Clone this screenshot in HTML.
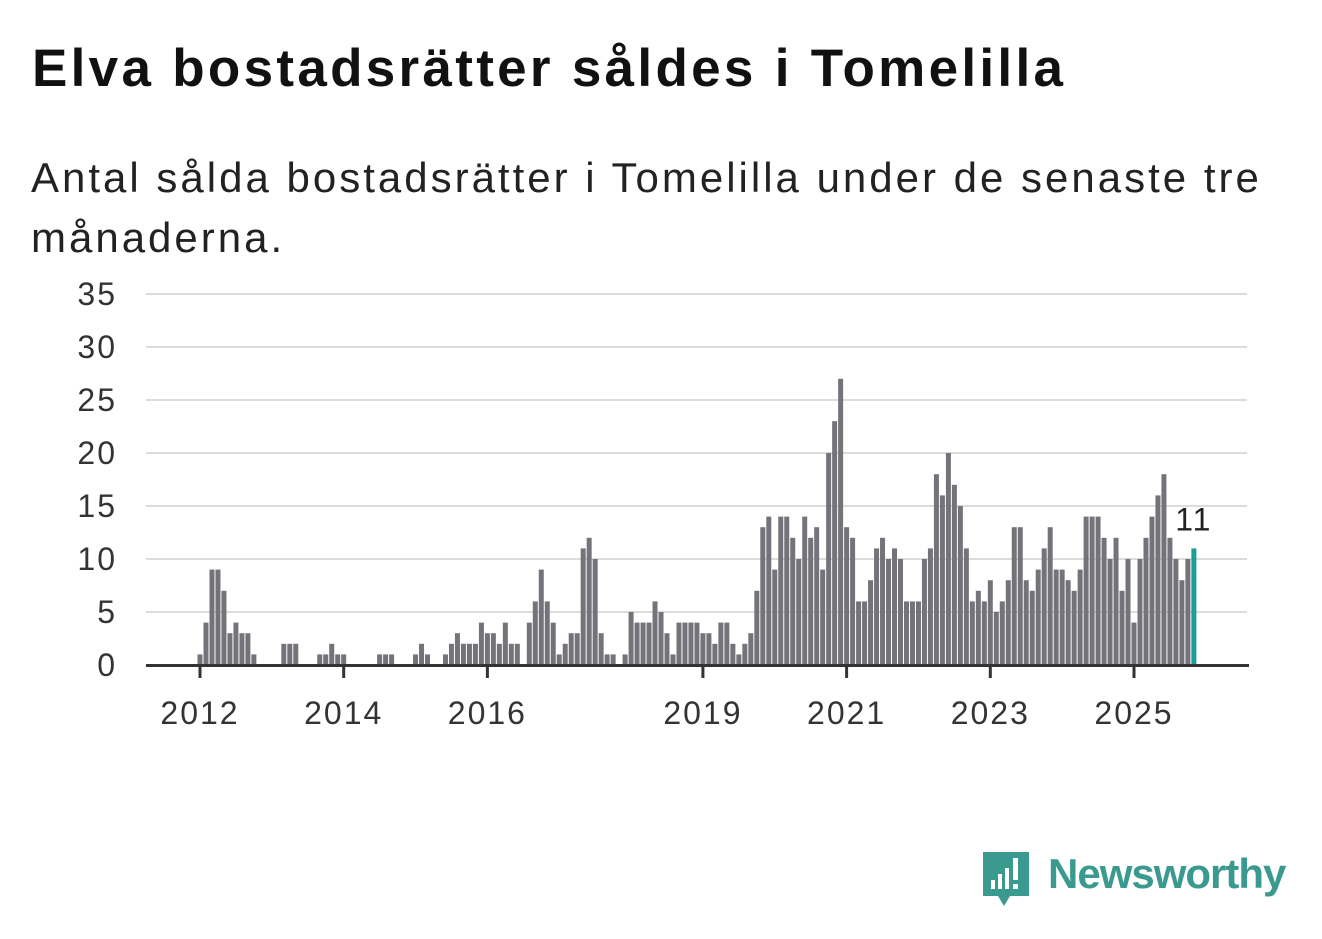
<!DOCTYPE html>
<html><head><meta charset="utf-8"><style>
body{margin:0;background:#fff;width:1322px;height:939px;overflow:hidden;font-family:"Liberation Sans","DejaVu Sans",sans-serif}
h1{position:absolute;left:32px;top:38px;margin:0;font-size:53px;font-weight:bold;color:#111;letter-spacing:3.3px}
p.sub{position:absolute;left:31px;top:148px;margin:0;font-size:42px;line-height:60px;color:#222;width:1290px;letter-spacing:3px}
</style></head><body>
<h1>Elva bostadsrätter såldes i Tomelilla</h1>
<p class="sub">Antal sålda bostadsrätter i Tomelilla under de senaste tre månaderna.</p>
<svg id="chart" width="1322" height="939" style="position:absolute;left:0;top:0"></svg>
<div style="position:absolute;left:980px;top:850px;width:320px;height:60px">
<svg width="52" height="60" style="position:absolute;left:0;top:0">
<path d="M3 2h46v44H30l-6 10-6-10H3z" fill="#3a9a8f"/>
<rect x="11" y="30" width="4" height="9" fill="#fff"/><rect x="18" y="24" width="4" height="15" fill="#fff"/><rect x="25" y="18" width="4" height="21" fill="#fff"/><rect x="33" y="8" width="5" height="22" fill="#fff"/><rect x="33" y="34" width="5" height="5" fill="#fff"/>
</svg>
<span style="position:absolute;left:68px;top:0;font-size:42px;color:#3a9a8f;font-weight:bold;letter-spacing:-1px">Newsworthy</span>
</div>
<script>
const values=[1,4,9,9,7,3,4,3,3,1,0,0,0,0,2,2,2,0,0,0,1,1,2,1,1,0,0,0,0,0,1,1,1,0,0,0,1,2,1,0,0,1,2,3,2,2,2,4,3,3,2,4,2,2,0,4,6,9,6,4,1,2,3,3,11,12,10,3,1,1,0,1,5,4,4,4,6,5,3,1,4,4,4,4,3,3,2,4,4,2,1,2,3,7,13,14,9,14,14,12,10,14,12,13,9,20,23,27,13,12,6,6,8,11,12,10,11,10,6,6,6,10,11,18,16,20,17,15,11,6,7,6,8,5,6,8,13,13,8,7,9,11,13,9,9,8,7,9,14,14,14,12,10,12,7,10,4,10,12,14,16,18,12,10,8,10,11];
const yTicks=[0,5,10,15,20,25,30,35];
const xTickIdx=[0,24,48,84,108,132,156];
const xTickLabels=["2012","2014","2016","2019","2021","2023","2025"];
const lastLabel="11";
const svg=document.getElementById('chart');const NS='http://www.w3.org/2000/svg';
const x=i=>200+i*(1134-200)/156;
const y=v=>665-v*(665-294)/35;
function mk(t,a){const e=document.createElementNS(NS,t);for(const k in a)e.setAttribute(k,a[k]);svg.appendChild(e);return e;}
yTicks.forEach(v=>{
 if(v>0){const l=mk('line',{x1:146,x2:1247,y1:y(v),y2:y(v),stroke:'#dcdcdc','stroke-width':2});
 
 }
 const t=mk('text',{x:117,y:y(v)+11,'text-anchor':'end','font-size':32,'letter-spacing':2,fill:'#333','font-family':'Liberation Sans, sans-serif'});t.textContent=v;
 
 
});
values.forEach((v,i)=>{
 const last=i===values.length-1;
 const r=mk('rect',{x:x(i)-2.5,y:y(v),width:5,height:665-y(v),fill:last?'#1a9e95':'#74737a'});
 
 
});
const base=mk('line',{x1:146,x2:1249,y1:665.5,y2:665.5,stroke:'#333','stroke-width':3});


xTickIdx.forEach((idx,k)=>{
 const tk=mk('line',{x1:x(idx),x2:x(idx),y1:665,y2:678,stroke:'#333','stroke-width':3});
 
 
 const t=mk('text',{x:x(idx),y:724,'text-anchor':'middle','font-size':32,'letter-spacing':2,fill:'#333','font-family':'Liberation Sans, sans-serif'});t.textContent=xTickLabels[k];
 
 
});
const li=values.length-1;
const lb=mk('text',{x:x(li),y:y(values[li])-18,'text-anchor':'middle','font-size':32,'letter-spacing':2,fill:'#222','font-family':'Liberation Sans, sans-serif'});lb.textContent=lastLabel;


</script>
</body></html>
